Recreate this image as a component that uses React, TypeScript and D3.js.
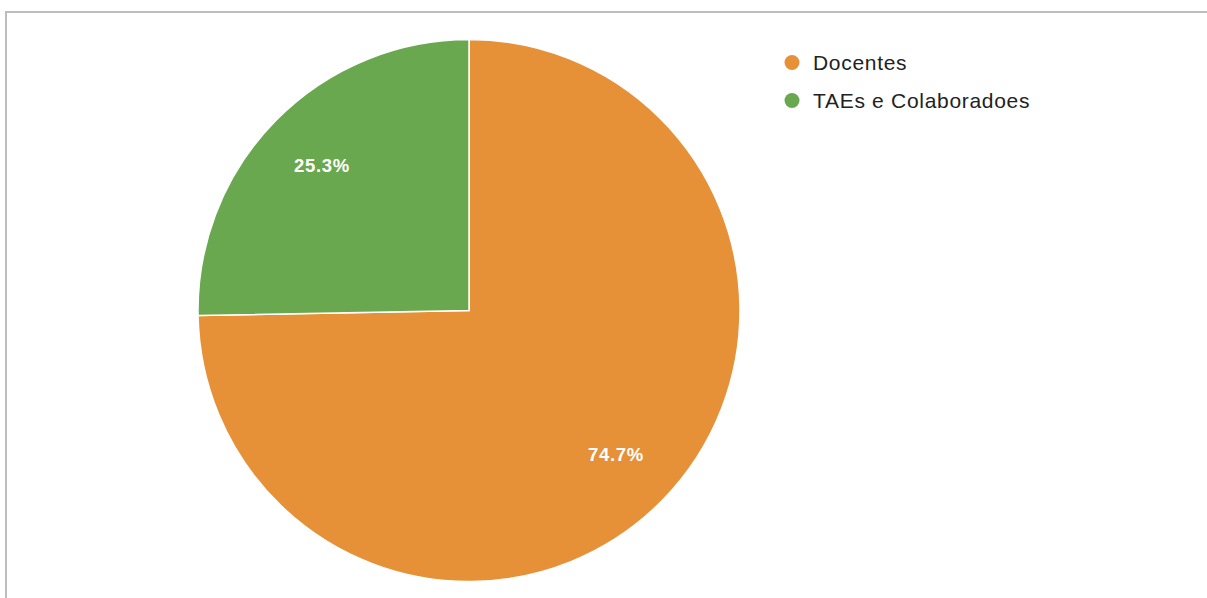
import React, { useEffect, useRef } from 'react';
import * as d3 from 'd3';

const categories = ['Docentes', 'TAEs e Colaboradoes'];
const values = [74.7, 25.3];
const colors = ['#e69138', '#6aa84f'];

const W = 1207;
const H = 598;

interface Slice {
  name: string;
  value: number;
}

const App: React.FC = () => {
  const ref = useRef<SVGSVGElement | null>(null);

  useEffect(() => {
    if (!ref.current) return;
    const svg = d3.select<SVGSVGElement, unknown>(ref.current);
    svg.selectAll('*').remove();

    const data: Slice[] = categories.map((name, i) => ({ name, value: values[i] }));
    const total = d3.sum(values);

    // frame
    svg
      .append('rect')
      .attr('x', 6)
      .attr('y', 12)
      .attr('width', W + 10)
      .attr('height', H + 10)
      .attr('fill', 'none')
      .attr('stroke', '#bdbdbd')
      .attr('stroke-width', 2);

    const cx = 469;
    const cy = 310.5;
    const radius = 271;

    const color = d3.scaleOrdinal<string, string>().domain(categories).range(colors);
    const pie = d3.pie<Slice>().value((d) => d.value).sort(null);
    const arc = d3.arc<d3.PieArcDatum<Slice>>().innerRadius(0).outerRadius(radius);
    const labelArc = d3.arc<d3.PieArcDatum<Slice>>().innerRadius(radius * 0.76).outerRadius(radius * 0.76);

    const g = svg.append('g').attr('transform', `translate(${cx},${cy})`);
    const arcs = pie(data);

    g.selectAll('path')
      .data(arcs)
      .enter()
      .append('path')
      .attr('d', arc as any)
      .attr('fill', (d) => color(d.data.name))
      .attr('stroke', '#ffffff')
      .attr('stroke-width', 1.5);

    g.selectAll('text.slice-label')
      .data(arcs)
      .enter()
      .append('text')
      .attr('class', 'slice-label')
      .attr('transform', (d) => `translate(${labelArc.centroid(d)})`)
      .attr('text-anchor', 'middle')
      .attr('dy', '0.33em')
      .attr('font-family', 'Arial, "Liberation Sans", sans-serif')
      .attr('font-size', 18.5)
      .attr('font-weight', 'bold')
      .attr('letter-spacing', 0.7)
      .attr('fill', '#ffffff')
      .text((d) => `${((d.data.value / total) * 100).toFixed(1)}%`);

    // legend
    const legend = svg.append('g').attr('transform', 'translate(792,62.5)');
    const item = legend
      .selectAll('g')
      .data(data)
      .enter()
      .append('g')
      .attr('transform', (_d, i) => `translate(0,${i * 38})`);
    item
      .append('circle')
      .attr('r', 7.5)
      .attr('fill', (d) => color(d.name));
    item
      .append('text')
      .attr('x', 21)
      .attr('dy', '0.34em')
      .attr('font-family', 'Arial, "Liberation Sans", sans-serif')
      .attr('font-size', 21)
      .attr('letter-spacing', 0.7)
      .attr('fill', '#222222')
      .text((d) => d.name);
  }, []);

  return (
    <div style={{ position: 'absolute', left: 0, top: 0, width: W, height: H, overflow: 'hidden', background: '#fff' }}>
      <svg ref={ref} width={W} height={H} />
    </div>
  );
};

export default App;
